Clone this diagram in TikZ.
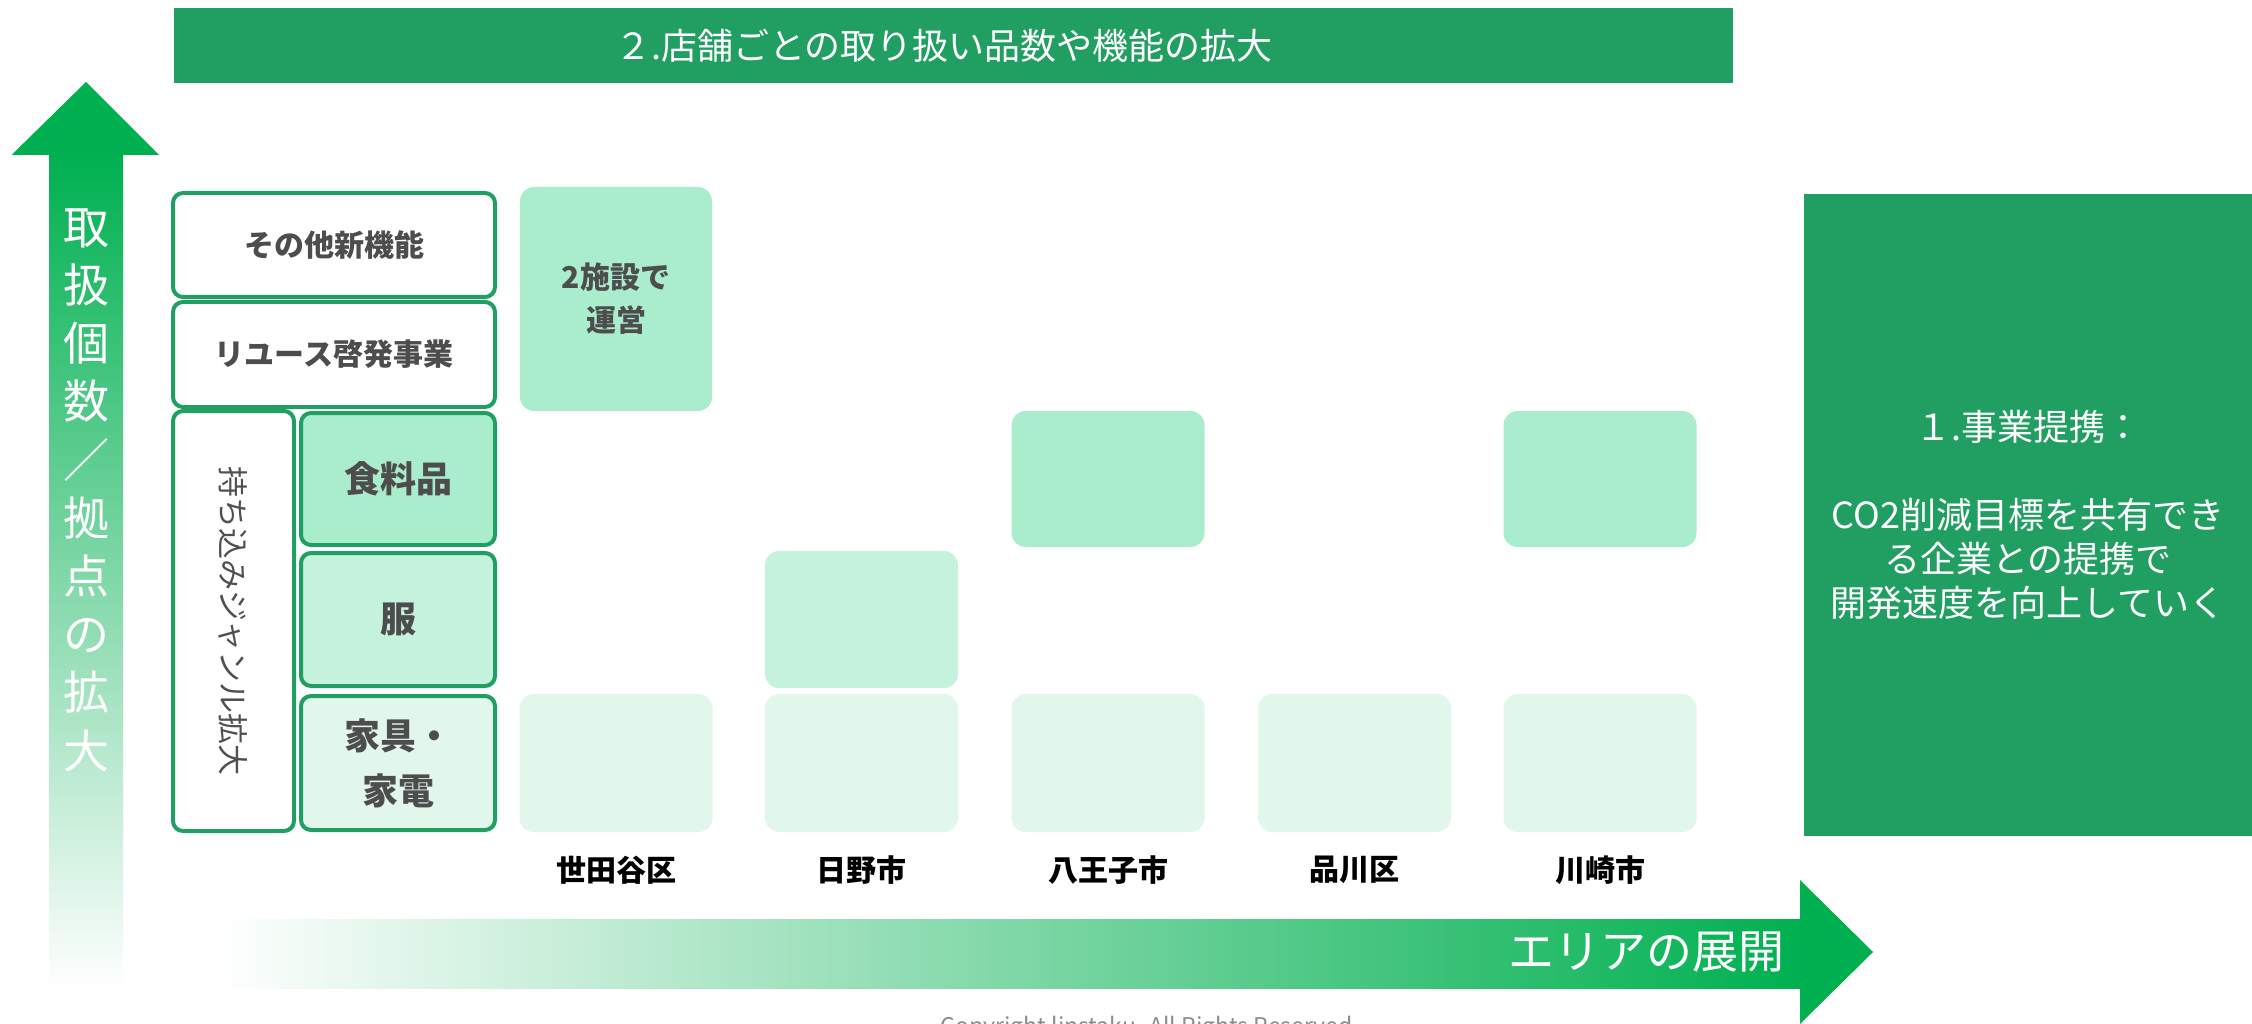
\documentclass[tikz,border=0pt]{standalone}
\usepackage{fontspec}
\setmainfont{Noto Sans CJK JP}
\definecolor{dkgreen}{HTML}{219F62}
\definecolor{agreen}{HTML}{00B050}
\definecolor{cellA}{HTML}{A9EDCD}
\definecolor{cellB}{HTML}{C4F2DC}
\definecolor{cellC}{HTML}{E1F7EC}
\definecolor{txtgray}{HTML}{4D4D4D}
\definecolor{midgray}{HTML}{505050}
\definecolor{copygray}{HTML}{8C8C8C}
\tikzset{
  tbl/.style={draw=dkgreen, line width=4pt, rounded corners=10pt, fill=white,
    inner sep=0pt, text=txtgray},
  cell/.style={rounded corners=14pt, draw=none, inner sep=0pt,
    minimum width=193pt, text=txtgray},
  lblA/.style={font=\fontsize{30}{43}\selectfont\bfseries},
  lblB/.style={font=\fontsize{36}{55}\selectfont\bfseries},
  city/.style={font=\fontsize{30}{36}\selectfont\bfseries, text=black},
}
\begin{document}
\begin{tikzpicture}[x=1pt,y=-1pt]
\useasboundingbox (0,0) rectangle (2252,1024);
\fill[white] (0,0) rectangle (2252,1024);

% top banner
\node[fill=dkgreen, minimum width=1559pt, minimum height=75pt, inner sep=0pt] (banner) at (953.5,46) {};
\node[text=white, inner sep=0pt, font=\fontsize{36}{40}\selectfont] (bannertxt) at (944,46)
  {２.店舗ごとの取り扱い品数や機能の拡大};

% right box
\node[fill=dkgreen, minimum width=448pt, minimum height=642pt, inner sep=0pt,
  text=white, align=center, font=\fontsize{36}{44}\selectfont] (partner) at (2028,515)
  {１.事業提携：\\\mbox{}\\CO2削減目標を共有でき\\る企業との提携で\\開発速度を向上していく};

% vertical arrow
\shade[top color=agreen, middle color=agreen!55!white, bottom color=white]
  (49,155) rectangle (123,990);
\fill[agreen] (11.5,155) -- (86,82) -- (159,155) -- cycle;
\node[text=white, align=center, inner sep=0pt,
  font=\fontsize{46}{58.2}\selectfont] (vlabel) at (86,490)
  {取\\扱\\個\\数\\／\\拠\\点\\の\\拡\\大};

% horizontal arrow
\shade[left color=white, right color=agreen] (215,919) rectangle (1801,988);
\fill[agreen] (1800,880) -- (1873,952) -- (1800,1024) -- cycle;
\node[text=white, inner sep=0pt, font=\fontsize{46}{50}\selectfont] (hlabel)
  at (1646,952) {エリアの展開};

% left table
\node[tbl, lblA, minimum width=322pt, minimum height=104pt] (other) at (334,245) {その他新機能};
\node[tbl, lblA, minimum width=322pt, minimum height=105pt] (reuse) at (334,354.5) {リユース啓発事業};
\node[tbl, minimum width=121pt, minimum height=420pt] (bring) at (233.5,621) {};
\node[rotate=-90, text=midgray, font=\fontsize{31}{36}\selectfont] (bringtxt) at (bring.center) {持ち込みジャンル拡大};
\node[tbl, lblB, fill=cellA, minimum width=194pt, minimum height=132pt] (food) at (398,479) {食料品};
\node[tbl, lblB, fill=cellB, minimum width=194pt, minimum height=133pt] (cloth) at (398,619.5) {服};
\node[tbl, lblB, fill=cellC, minimum width=194pt, minimum height=134pt, align=center] (furn) at (398,763) {家具・\\家電};

% grid cells
\node[cell, lblA, fill=cellA, minimum width=192pt, minimum height=224pt, align=center] (setagayaA) at (616,299) {2施設で\\運営};
\node[cell, fill=cellA, minimum height=136pt] (hachiojiA) at (1108,479) {};
\node[cell, fill=cellA, minimum height=136pt] (kawasakiA) at (1600,479) {};
\node[cell, fill=cellB, minimum height=137pt] (hinoB) at (861.5,619.5) {};
\node[cell, fill=cellC, minimum height=138pt] (setagayaC) at (616,763) {};
\node[cell, fill=cellC, minimum height=138pt] (hinoC) at (861.5,763) {};
\node[cell, fill=cellC, minimum height=138pt] (hachiojiC) at (1108,763) {};
\node[cell, fill=cellC, minimum height=138pt] (shinagawaC) at (1354.5,763) {};
\node[cell, fill=cellC, minimum height=138pt] (kawasakiC) at (1600,763) {};

% city labels
\node[city] (c1) at (616,870) {世田谷区};
\node[city] (c2) at (861.5,870) {日野市};
\node[city] (c3) at (1108,870) {八王子市};
\node[city] (c4) at (1354.5,870) {品川区};
\node[city] (c5) at (1600,870) {川崎市};

% copyright (cut off at the bottom edge, as in the reference)
\node[anchor=base, text=copygray, font=\fontsize{23}{26}\selectfont] (copy) at (1150,1034)
  {Copyright linstaku. All Rights Reserved.};
\end{tikzpicture}
\end{document}
